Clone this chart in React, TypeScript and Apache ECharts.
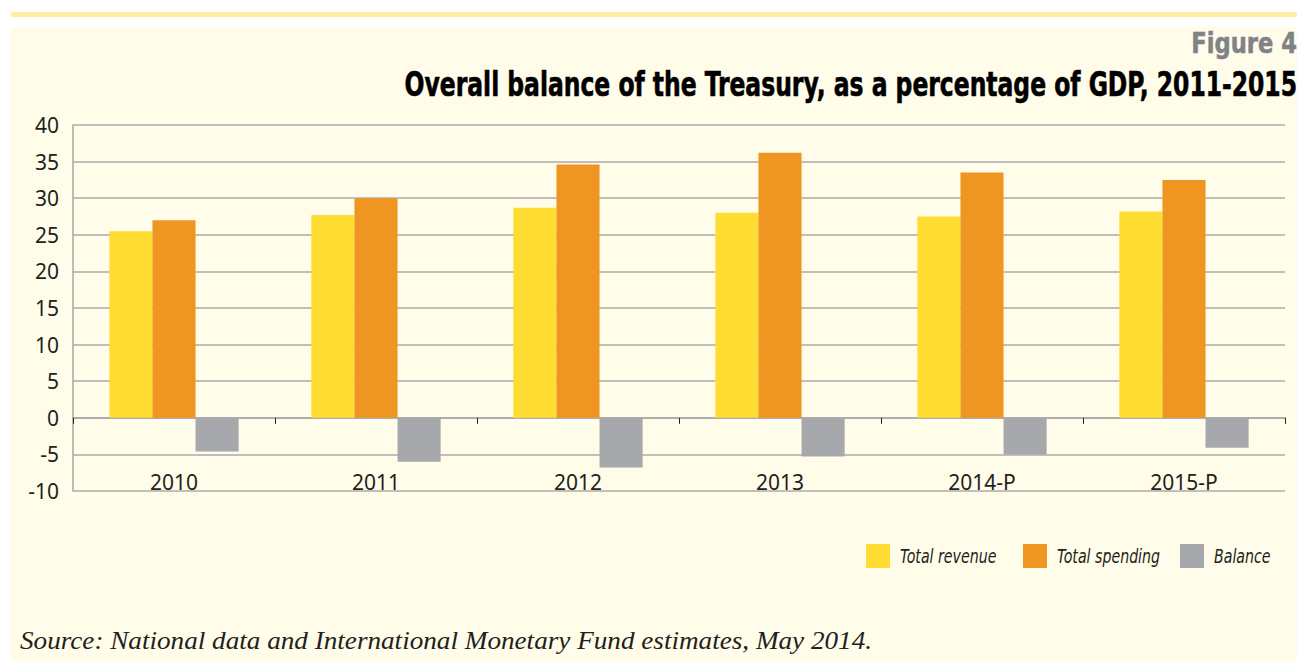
import React, { useEffect, useRef } from "react";
import * as echarts from "echarts";

const categories = ["2010", "2011", "2012", "2013", "2014-P", "2015-P"];
const totalRevenue = [25.5, 27.7, 28.7, 28.0, 27.5, 28.2];
const totalSpending = [27.0, 30.0, 34.6, 36.2, 33.5, 32.5];
const balance = [-4.6, -6.0, -6.8, -5.3, -5.0, -4.1];
const seriesNames = ["Total revenue", "Total spending", "Balance"];
const colors = ["#FFDC32", "#EF9522", "#A7A8AB"];
const legendX = [866, 1023, 1180];

export default function App() {
  const ref = useRef<HTMLDivElement>(null);
  useEffect(() => {
    document.body.style.margin = "0";
    const chart = echarts.init(ref.current!, null, { renderer: "svg" });
    const labelFont = "'Noto Sans', 'Open Sans', sans-serif";
    const condensed = "'DejaVu Sans Condensed', 'DejaVu Sans', sans-serif";
    const legendGraphics: any[] = [];
    seriesNames.forEach((name, i) => {
      legendGraphics.push({
        type: "rect",
        shape: { x: legendX[i], y: 544, width: 24, height: 24 },
        style: { fill: colors[i] },
      });
      legendGraphics.push({
        type: "text",
        x: legendX[i] + 34,
        y: 556,
        scaleX: 0.83,
        style: {
          text: name,
          x: 0,
          y: 0,
          textAlign: "left",
          textVerticalAlign: "middle",
          fontSize: 19,
          fontStyle: "italic",
          fontFamily: condensed,
          fill: "#231F20",
        },
      });
    });
    chart.setOption({
      animation: false,
      backgroundColor: "#ffffff",
      color: colors,
      graphic: [
        { type: "rect", z: -10, shape: { x: 11, y: 12, width: 1286, height: 5 }, style: { fill: "#FFEFA6" } },
        { type: "rect", z: -10, shape: { x: 11, y: 27, width: 1286, height: 640 }, style: { fill: "#FFFCE9" } },
        {
          type: "text",
          x: 1297,
          y: 43,
          scaleX: 0.9,
          style: {
            text: "Figure 4",
            x: 0,
            y: 0,
            textAlign: "right",
            textVerticalAlign: "middle",
            fontSize: 28,
            fontWeight: "bold",
            fontFamily: condensed,
            fill: "#808285",
            stroke: "#808285",
            lineWidth: 0.5,
          },
        },
        {
          type: "text",
          x: 1297,
          y: 84,
          scaleX: 0.79,
          style: {
            text: "Overall balance of the Treasury, as a percentage of GDP, 2011-2015",
            x: 0,
            y: 0,
            textAlign: "right",
            textVerticalAlign: "middle",
            fontSize: 33,
            fontWeight: "bold",
            fontFamily: condensed,
            fill: "#000000",
            stroke: "#000000",
            lineWidth: 0.6,
          },
        },
        {
          type: "text",
          x: 20,
          y: 640,
          scaleX: 1.045,
          style: {
            text: "Source: National data and International Monetary Fund estimates, May 2014.",
            x: 0,
            y: 0,
            textAlign: "left",
            textVerticalAlign: "middle",
            fontSize: 26,
            fontStyle: "italic",
            fontFamily: "'Liberation Serif', 'DejaVu Serif', serif",
            fill: "#231F20",
          },
        },
        ...legendGraphics,
      ],
      grid: { left: 73, right: 16, top: 125, bottom: 170, containLabel: false },
      xAxis: {
        type: "category",
        data: categories,
        axisLine: { onZero: true, lineStyle: { color: "#A8A8A8", width: 1.5 } },
        axisTick: { show: true, length: 6, lineStyle: { color: "#231F20", width: 1 } },
        axisLabel: { margin: -20, fontSize: 21, color: "#231F20", fontFamily: labelFont },
      },
      yAxis: {
        type: "value",
        min: -10,
        max: 40,
        interval: 5,
        axisLine: { show: true, lineStyle: { color: "#A8A8A8", width: 1.5 } },
        axisTick: { show: false },
        splitLine: { lineStyle: { color: "#ABABAB", width: 1.5 } },
        axisLabel: { margin: 14, fontSize: 21, color: "#231F20", fontFamily: labelFont },
      },
      series: [
        { name: seriesNames[0], type: "bar", data: totalRevenue, barGap: "0%", barCategoryGap: "36%" },
        { name: seriesNames[1], type: "bar", data: totalSpending, barGap: "0%", barCategoryGap: "36%" },
        { name: seriesNames[2], type: "bar", data: balance, barGap: "0%", barCategoryGap: "36%" },
      ],
    });
    return () => chart.dispose();
  }, []);
  return <div ref={ref} style={{ width: 1301, height: 661 }} />;
}
